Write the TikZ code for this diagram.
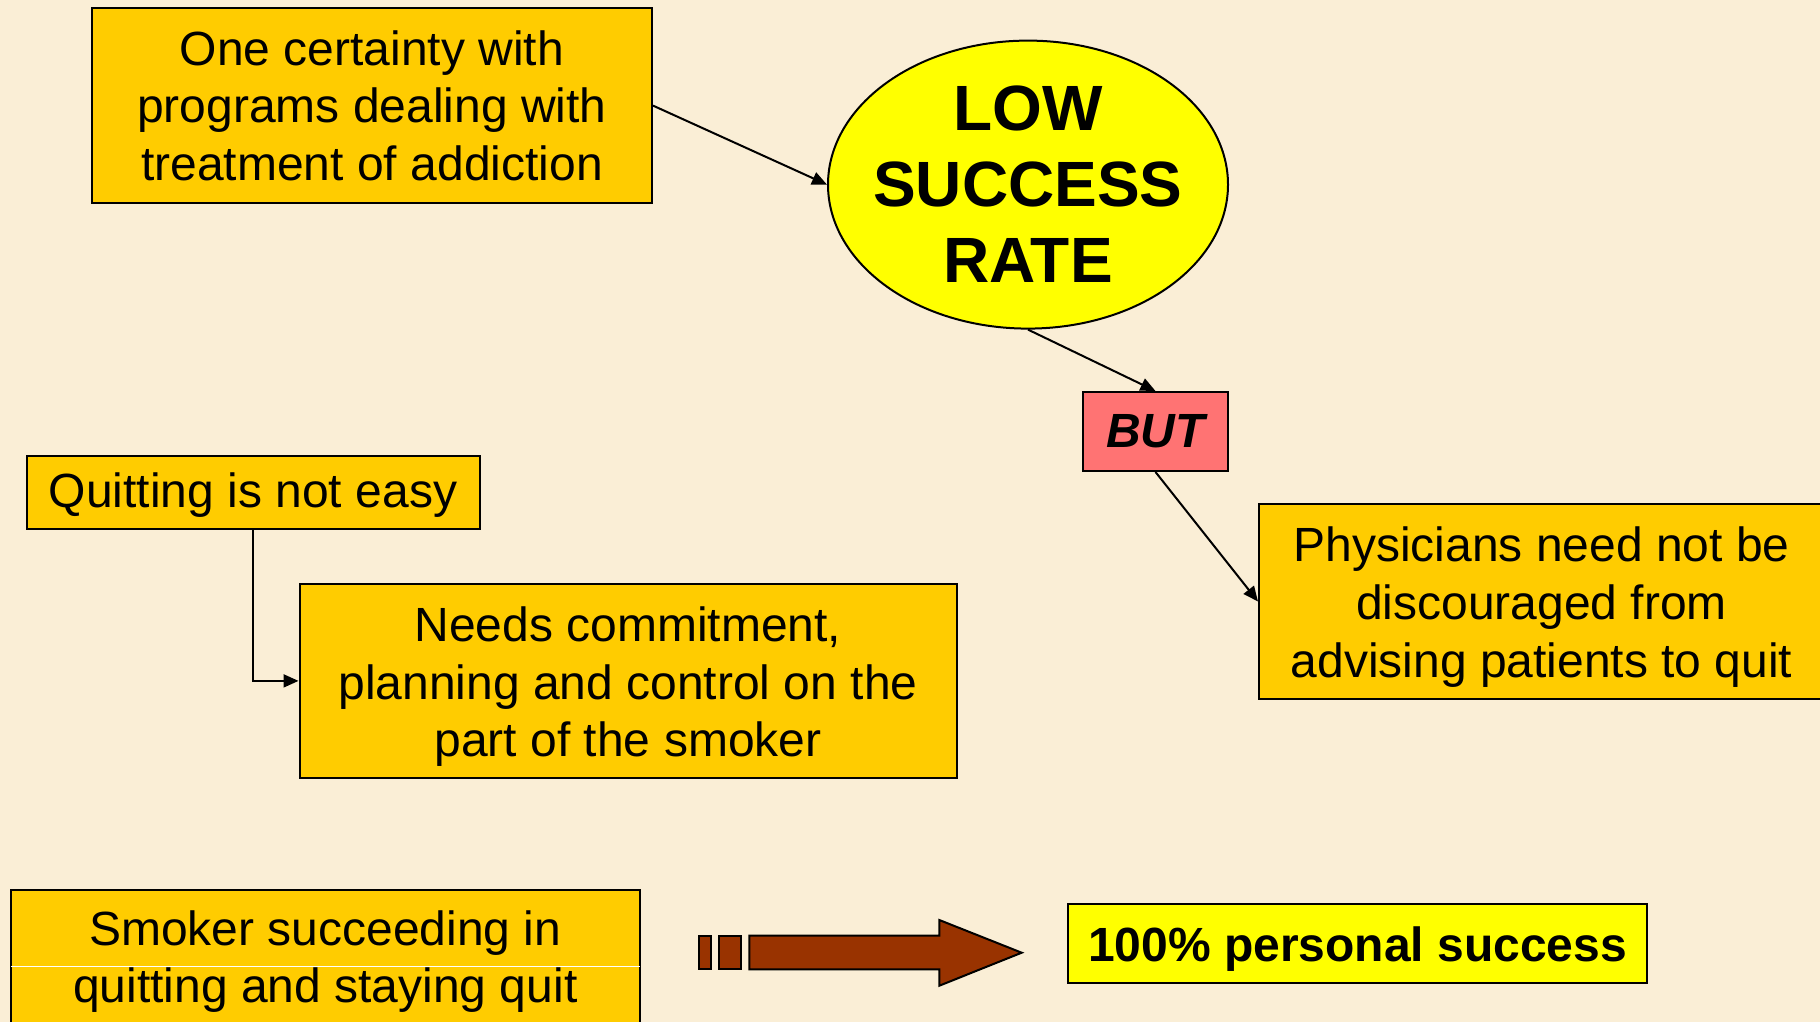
\documentclass[tikz,border=0pt]{standalone}
\usepackage{fontspec}
\setmainfont{Liberation Sans}
\usetikzlibrary{arrows.meta,shapes.geometric}
\definecolor{paper}{RGB}{250,238,214}
\definecolor{gold}{HTML}{FFCC00}
\definecolor{lemon}{HTML}{FFFF00}
\definecolor{salmon}{HTML}{FF7373}
\definecolor{rust}{HTML}{993300}
\tikzset{
  box/.style={draw=black, line width=2pt, fill=gold, inner sep=0pt},
  txt/.style={inner sep=0pt, align=center, font=\fontsize{48}{57.6}\selectfont},
  link/.style={draw=black, line width=2pt, -{Triangle[length=15pt,width=13pt]}},
}
\begin{document}
\begin{tikzpicture}[x=1pt,y=-1pt]
  \useasboundingbox (0,0) rectangle (1820,1022);
  \clip (0,0) rectangle (1820,1022);
  \fill[paper] (0,0) rectangle (1820,1022);

  % statement boxes and their texts
  \node[box, minimum width=560pt, minimum height=195pt] (certainty) at (372,105.6) {};
  \node[txt] (certainty-t) at (certainty.center)
    {One certainty with\\programs dealing with\\treatment of addiction};

  \node[ellipse, draw=black, line width=2pt, fill=lemon, inner sep=0pt,
        minimum width=400pt, minimum height=288pt] (low) at (1028,184.6) {};
  \node[txt, font=\fontsize{64}{76}\selectfont\bfseries] (low-t) at (low.center)
    {LOW\\SUCCESS\\RATE};

  \node[box, fill=salmon, minimum width=145pt, minimum height=79pt] (but) at (1155.5,431.5) {};
  \node[txt, font=\fontsize{48}{57.6}\selectfont\bfseries\itshape] (but-t) at (but.center) {BUT};

  \node[box, minimum width=565pt, minimum height=195pt] (physicians) at (1541.5,601.5) {};
  \node[txt] (physicians-t) at ([yshift=-5.5pt]physicians.center)
    {Physicians need not be\\discouraged from\\advising patients to quit};

  \node[box, minimum width=453pt, minimum height=73pt] (quitting) at (253,492.6) {};
  \node[txt] (quitting-t) at ([yshift=-2.3pt]quitting.center) {Quitting is not easy};

  \node[box, minimum width=657pt, minimum height=194pt] (needs) at (628,680.9) {};
  \node[txt] (needs-t) at ([yshift=-6pt]needs.center)
    {Needs commitment,\\planning and control on the\\part of the smoker};

  \node[box, minimum width=628.5pt, minimum height=136pt] (smoker) at (325.3,957.6) {};
  \draw[white, line width=0.8pt] ([xshift=1pt]smoker.west |- 0,966) -- ([xshift=-1pt]smoker.east |- 0,966);
  \node[txt] (smoker-t) at ([yshift=-4pt]smoker.center)
    {Smoker succeeding in\\quitting and staying quit};

  \node[box, fill=lemon, minimum width=579pt, minimum height=79pt] (success) at (1357.5,943.5) {};
  \node[txt, font=\fontsize{48}{57.6}\selectfont\bfseries] (success-t) at ([yshift=-5.5pt]success.center)
    {100\% personal success};

  % connectors
  \draw[link] (certainty.east) -- (low.west);
  \draw[link] (low.south) -- (but.north);
  \draw[link] (but.south) -- (physicians.west);
  \draw[link] (quitting.south) |- (needs.west);

  % striped block arrow
  \begin{scope}[fill=rust, draw=black, line width=2pt]
    \filldraw (699,935.7) rectangle (710.7,969.3);
    \filldraw (719.3,935.7) rectangle (740.7,969.3);
    \filldraw (749.3,935.7) -- (939.3,935.7) -- (939.3,920) -- (1021.7,952.7)
      -- (939.3,985.7) -- (939.3,969.3) -- (749.3,969.3) -- cycle;
  \end{scope}
\end{tikzpicture}
\end{document}
